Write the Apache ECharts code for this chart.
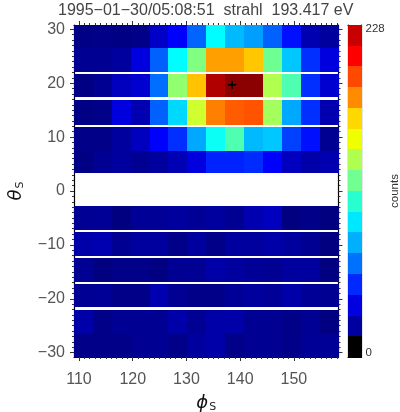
<!DOCTYPE html>
<html><head><meta charset="utf-8">
<style>html,body{margin:0;padding:0;background:#fff}#c{width:400px;height:412px}</style>
<script src="https://cdn.jsdelivr.net/npm/echarts@6/dist/echarts.min.js"></script>
</head><body><div id="c"></div>
<script>
const titleText = '1995\u221201\u221230/05:08:51  strahl  193.417 eV';
const phiEdges = [109.07,112.55,116.09,119.63,123.2,126.5,130.05,133.6,137.2,140.7,144.3,147.8,151.3,154.9,158.3];
const thetaTop = [30.8,26.44,21.7,16.9,11.87,7.42,-2.78,-7.6,-12.43,-17.25,-22,-26.5];
const thetaBot = [26.44,22.08,17.44,12.25,7.42,3.34,-7.24,-12.06,-16.88,-21.5,-26.5,-30.8];
const row1 = [1,2,1,2,16,28,51,85,70,64,50,32,11,7];
const row2 = [4,4,7,21,50,85,114,164,164,155,110,73,39,21];
const row3 = [1,4,14,18,53,118,156,219,228,228,125,103,39,18];
const row4 = [1,2,21,11,50,77,132,171,179,181,122,66,39,11];
const row5 = [2,2,7,14,28,39,66,88,103,70,73,43,32,4];
const row6 = [1,4,7,4,7,12,21,36,36,38,28,14,9,11];
const row7 = [4,5,0,5,5,7,5,7,4,11,14,0,2,0];
const row8 = [9,11,4,7,7,2,7,2,7,7,9,7,4,0];
const row9 = [4,0,2,2,0,4,4,9,7,5,4,7,7,0];
const row10 = [4,5,2,2,11,4,2,2,5,7,5,9,5,4];
const row11 = [9,2,4,4,4,9,4,9,9,4,4,2,4,0];
const row12 = [2,2,2,4,4,2,7,9,2,4,4,2,5,5];
const rows = [row1,row2,row3,row4,row5,row6,row7,row8,row9,row10,row11,row12];
const peak = [[138.5,19.7]];
const xMajor = [110,120,130,140,150];
const yMajor = [-30,-20,-10,0,10,20,30];
const jetStops = ['#000080','#0000ff','#0080ff','#00ffff','#80ff80','#ffff00','#ff8000','#ff0000','#8b0000'];
const countMax = 228;
const bandColors = ['#000000','#0000a0','#0000e0','#0028ff','#0070ff','#00b0ff','#00e8ff','#28ffd0','#70ff90','#b0ff50','#f0ff00','#ffd800','#ff8c00','#ff4800','#ff0000','#c80000'];

function jet(v){
  const t = Math.max(0,Math.min(1,v/countMax))*(jetStops.length-1);
  const i = Math.min(jetStops.length-2,Math.floor(t));
  return echarts.color.lerp(t-i,[jetStops[i],jetStops[i+1]]);
}
const cells = [];
rows.forEach((r,j)=>r.forEach((v,i)=>cells.push([phiEdges[i],phiEdges[i+1],thetaTop[j],thetaBot[j],v])));
const barMin=-3, barMax=231, barStep=(barMax-barMin)/bandColors.length;
const bands = bandColors.map((c,i)=>[barMin+i*barStep,barMin+(i+1)*barStep,i]);

function range(a,b){const o=[];for(let k=a;k<=b;k++)o.push(k);return o;}
const xMinor = range(110,158);
const yMinor = range(-30,30);
const font = 'Liberation Sans';
const ink = '#333';
const lab = {fontFamily:font,fontSize:16,color:'#555',margin:9};
function ax(extra,min,max,pos,ticks,len,labels,line,margin){
  return Object.assign({type:'value',min,max,position:pos,scale:true,splitLine:{show:false},
    axisLine:{show:line,onZero:false,lineStyle:{color:'#000',width:1.2}},
    axisTick:{show:true,customValues:ticks,length:len,lineStyle:{color:ink,width:1}},
    axisLabel:labels?Object.assign({show:true,customValues:labels,formatter:v=>String(v).replace('-','\u2212'),hideOverlap:false},lab,margin?{margin}:{}):{show:false}},extra);
}
const xMin=phiEdges[0], xMax=phiEdges[14], yMin=-30.8, yMax=30.8;
function snap(r){const x=Math.round(r.x),y=Math.round(r.y);return {x,y,width:Math.round(r.x+r.width)-x,height:Math.round(r.y+r.height)-y};}
const option = {
  animation:false,
  backgroundColor:'#fff',
  title:{text:titleText,left:53,top:-2,textStyle:{fontFamily:font,fontSize:16,fontWeight:'normal',color:'#444'}},
  grid:[{left:74,top:25,width:264.5,height:332,outerBoundsMode:'none',containLabel:false},{left:348,top:25,width:13.5,height:332,outerBoundsMode:'none',containLabel:false}],
  xAxis:[
    ax({gridIndex:0,name:'{a|\u03d5}{b|S}',nameLocation:'middle',nameGap:37,
       nameTextStyle:{rich:{a:{fontFamily:'DejaVu Sans',fontStyle:'italic',fontSize:18,color:'#111'},b:{fontFamily:'DejaVu Sans',fontSize:11,color:'#222',padding:[8,0,0,1]}}}},xMin,xMax,'bottom',xMajor,4,xMajor,true,15),
    ax({gridIndex:0},xMin,xMax,'bottom',xMinor,2,null,false),
    ax({gridIndex:0},xMin,xMax,'top',xMajor,4,null,true),
    ax({gridIndex:0},xMin,xMax,'top',xMinor,2,null,false),
    {gridIndex:1,type:'value',min:0,max:1,position:'bottom',splitLine:{show:false},axisTick:{show:false},axisLabel:{show:false},axisLine:{show:true,onZero:false,lineStyle:{color:'#000',width:1.2}}},
    {gridIndex:1,type:'value',min:0,max:1,position:'top',splitLine:{show:false},axisTick:{show:false},axisLabel:{show:false},axisLine:{show:true,onZero:false,lineStyle:{color:'#000',width:1.2}}}
  ],
  yAxis:[
    ax({gridIndex:0,name:'{a|\u03b8}{b|S}',nameLocation:'middle',nameGap:48,nameRotate:90,
       nameTextStyle:{rich:{a:{fontFamily:'DejaVu Sans',fontStyle:'italic',fontSize:18,color:'#111'},b:{fontFamily:'DejaVu Sans',fontSize:11,color:'#222',padding:[8,0,0,1]}}}},yMin,yMax,'left',yMajor,4,yMajor,true),
    ax({gridIndex:0},yMin,yMax,'left',yMinor,2,null,false),
    ax({gridIndex:0},yMin,yMax,'right',yMajor,4,null,true),
    ax({gridIndex:0},yMin,yMax,'right',yMinor,2,null,false),
    {gridIndex:1,type:'value',min:barMin,max:barMax,position:'left',splitLine:{show:false},axisLabel:{show:false},
      axisTick:{show:true,inside:true,customValues:[114],length:2,lineStyle:{color:'#000'}},axisLine:{show:true,onZero:false,lineStyle:{color:'#000',width:1.2}}},
    {gridIndex:1,type:'value',min:barMin,max:barMax,position:'right',splitLine:{show:false},
      name:'counts',nameLocation:'middle',nameGap:27,nameRotate:90,nameTextStyle:{fontFamily:font,fontSize:11.5,color:'#333'},
      axisLabel:{show:true,customValues:[0,countMax],margin:4,fontFamily:font,fontSize:11.5,color:'#333'},
      axisTick:{show:true,inside:true,customValues:[114],length:2,lineStyle:{color:'#000'}},axisLine:{show:true,onZero:false,lineStyle:{color:'#000',width:1.2}}}
  ],
  series:[
    {type:'custom',xAxisIndex:0,yAxisIndex:0,silent:true,data:cells,z:1,
     renderItem:(p,api)=>{
       const a=api.coord([api.value(0),api.value(2)]), b=api.coord([api.value(1),api.value(3)]);
       return {type:'rect',shape:snap({x:a[0],y:a[1],width:b[0]-a[0],height:b[1]-a[1]}),style:{fill:jet(api.value(4))}};
     }},
    {type:'custom',xAxisIndex:4,yAxisIndex:4,silent:true,data:bands,z:1,
     renderItem:(p,api)=>{
       const a=api.coord([0,api.value(1)]), b=api.coord([1,api.value(0)]);
       return {type:'rect',shape:snap({x:a[0],y:a[1],width:b[0]-a[0],height:b[1]-a[1]}),style:{fill:bandColors[api.value(2)]}};
     }},
    {type:'scatter',xAxisIndex:0,yAxisIndex:0,silent:true,data:peak,z:5,symbol:'path://M4 0h2v10h-2zM0 4h10v2h-10z',symbolSize:8,itemStyle:{color:'#000',opacity:1}}
  ]
};
echarts.init(document.getElementById('c'),null,{renderer:'canvas'}).setOption(option);
</script></body></html>
